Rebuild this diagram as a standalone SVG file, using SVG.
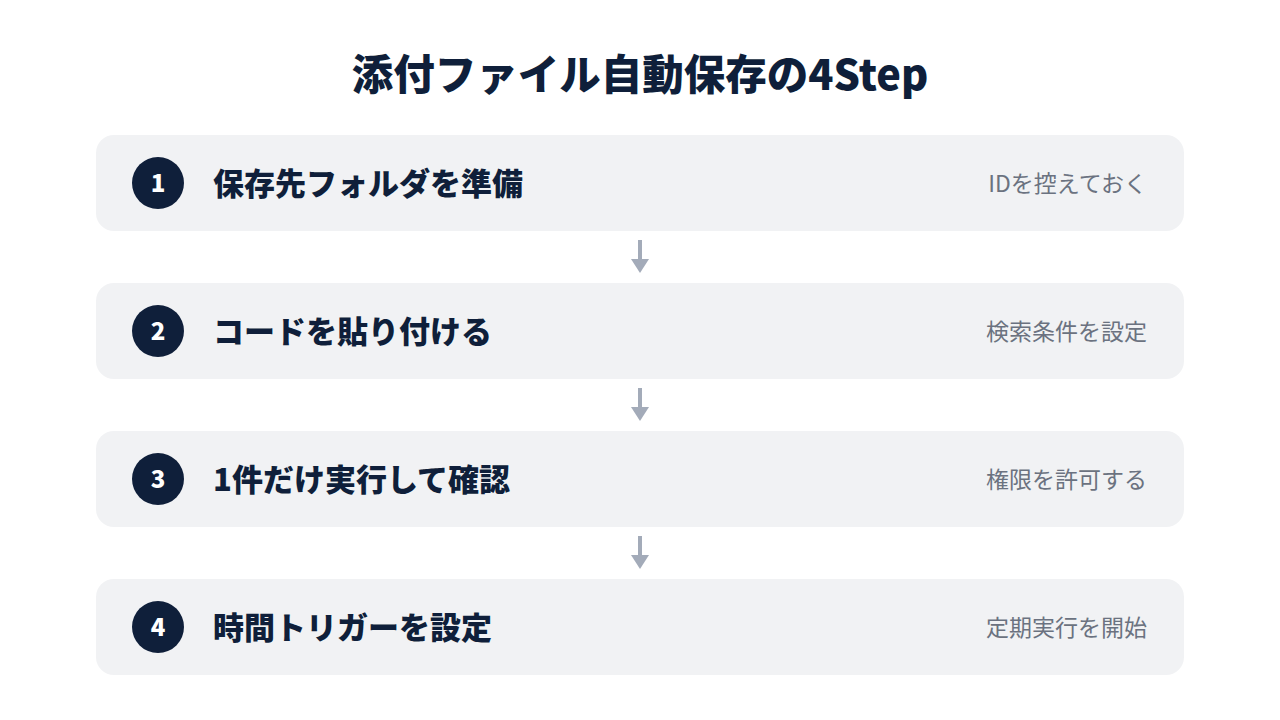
<svg xmlns="http://www.w3.org/2000/svg" width="1280" height="720" viewBox="0 0 1280 720">
<style>
.card{fill:#f1f2f4}
.num{fill:#0f1f3a}
.numt{font-family:"Noto Sans CJK JP","Noto Sans",sans-serif;font-weight:900;font-size:24px;fill:#ffffff;text-anchor:middle}
.lbl{font-family:"Noto Sans CJK JP",sans-serif;font-weight:900;font-size:31px;fill:#0f1f3a}
.sub{font-family:"Noto Sans CJK JP",sans-serif;font-size:23px;fill:#6b7280;text-anchor:end}
.title{font-family:"Noto Sans CJK JP",sans-serif;font-weight:900;font-size:41.5px;fill:#0f1f3a;text-anchor:middle}
.conn{stroke:#a3abb9;stroke-width:4;fill:none}
.head{fill:#a3abb9}
</style>
<rect width="1280" height="720" fill="#ffffff"/>
<text class="title" x="640" y="90">添付ファイル自動保存の4Step</text>
<g id="step1">
<rect class="card" x="96" y="135" width="1088" height="96" rx="18"/>
<circle class="num" cx="158" cy="183" r="26"/>
<text class="numt" x="158" y="192">1</text>
<text class="lbl" x="213" y="195">保存先フォルダを準備</text>
<text class="sub" x="1147" y="192">IDを控えておく</text>
</g>
<g id="step2">
<rect class="card" x="96" y="283" width="1088" height="96" rx="18"/>
<circle class="num" cx="158" cy="331" r="26"/>
<text class="numt" x="158" y="340">2</text>
<text class="lbl" x="213" y="343">コードを貼り付ける</text>
<text class="sub" x="1147" y="340">検索条件を設定</text>
</g>
<g id="step3">
<rect class="card" x="96" y="431" width="1088" height="96" rx="18"/>
<circle class="num" cx="158" cy="479" r="26"/>
<text class="numt" x="158" y="488">3</text>
<text class="lbl" x="213" y="491">1件だけ実行して確認</text>
<text class="sub" x="1147" y="488">権限を許可する</text>
</g>
<g id="step4">
<rect class="card" x="96" y="579" width="1088" height="96" rx="18"/>
<circle class="num" cx="158" cy="627" r="26"/>
<text class="numt" x="158" y="636">4</text>
<text class="lbl" x="213" y="639">時間トリガーを設定</text>
<text class="sub" x="1147" y="636">定期実行を開始</text>
</g>
<g id="connectors">
<line class="conn" x1="640" y1="240" x2="640" y2="260"/>
<polygon class="head" points="631,259 649,259 640,273"/>
<line class="conn" x1="640" y1="388" x2="640" y2="408"/>
<polygon class="head" points="631,407 649,407 640,421"/>
<line class="conn" x1="640" y1="536" x2="640" y2="556"/>
<polygon class="head" points="631,555 649,555 640,569"/>
</g>
</svg>
